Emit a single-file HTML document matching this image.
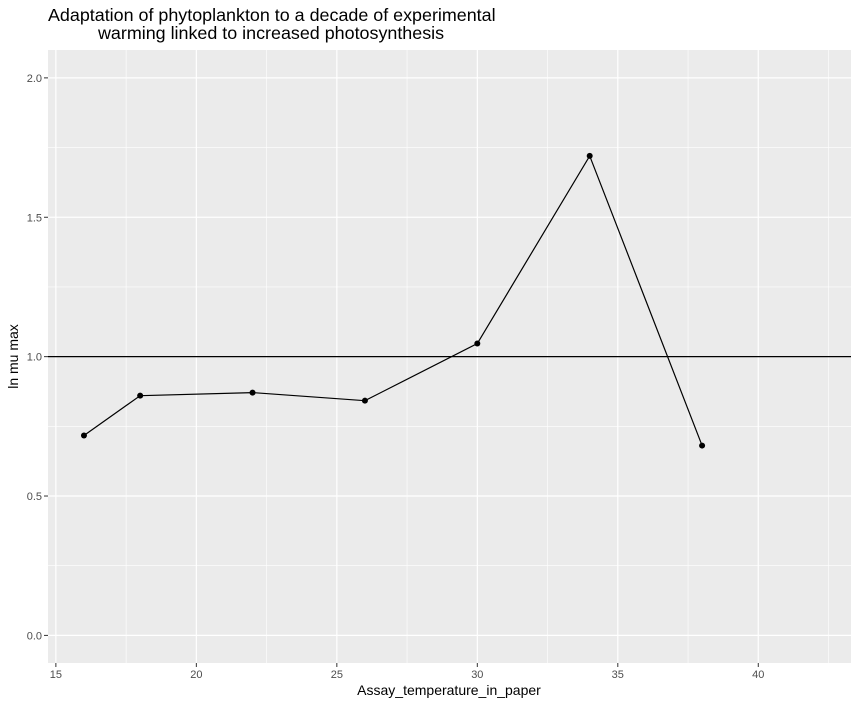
<!DOCTYPE html>
<html><head><meta charset="utf-8"><style>
body{margin:0;background:#fff;font-family:"Liberation Sans",sans-serif;}
</style></head><body>
<svg width="858" height="705" xmlns="http://www.w3.org/2000/svg" font-family="Liberation Sans, sans-serif">
<g id="root"></g>
</svg>
<script>
const temps=[16,18,22,26,30,34,38];
const lnmu=[0.717,0.860,0.871,0.842,1.047,1.720,0.681];
const xTicks=[15,20,25,30,35,40];
const yTicks=[0.0,0.5,1.0,1.5,2.0];
const yTickLabels=["0.0","0.5","1.0","1.5","2.0"];
const hline=1.0;
const L=48,R=851,T=50,B=663;
const X0=14.72,X1=43.30,Y0=-0.099,Y1=2.1;
const sx=v=>L+(v-X0)/(X1-X0)*(R-L);
const sy=v=>B-(v-Y0)/(Y1-Y0)*(B-T);
const NS="http://www.w3.org/2000/svg";
const root=document.getElementById('root');
function mk(t,a,p){const e=document.createElementNS(NS,t);for(const k in a)e.setAttribute(k,a[k]);(p||root).appendChild(e);return e;}
const bg=mk('rect',{x:L,y:T,width:R-L,height:B-T,fill:'#EBEBEB'});


for(let i=0;i<xTicks.length;i++){const m=xTicks[i]+2.5;if(m<X1){const l=mk('line',{x1:sx(m),x2:sx(m),y1:T,y2:B,stroke:'#fff','stroke-width':0.6});}}
for(let i=0;i<yTicks.length-1;i++){const m=(yTicks[i]+yTicks[i+1])/2;const l=mk('line',{x1:L,x2:R,y1:sy(m),y2:sy(m),stroke:'#fff','stroke-width':0.6});}
xTicks.forEach(v=>{const l=mk('line',{x1:sx(v),x2:sx(v),y1:T,y2:B,stroke:'#fff','stroke-width':1.2});
const tk=mk('line',{x1:sx(v),x2:sx(v),y1:B,y2:B+4,stroke:'#333'});
const t=mk('text',{x:sx(v),y:B+15,'font-size':11,fill:'#4D4D4D','text-anchor':'middle'});t.textContent=v;});
yTicks.forEach((v,i)=>{const l=mk('line',{x1:L,x2:R,y1:sy(v),y2:sy(v),stroke:'#fff','stroke-width':1.2});
const tk=mk('line',{x1:L-4,x2:L,y1:sy(v),y2:sy(v),stroke:'#333'});
const t=mk('text',{x:L-6,y:sy(v)+4,'font-size':11,fill:'#4D4D4D','text-anchor':'end'});t.textContent=yTickLabels[i];});
const h=mk('line',{x1:L,x2:R,y1:sy(hline),y2:sy(hline),stroke:'#000','stroke-width':1.3});


const pl=mk('polyline',{points:temps.map((t,i)=>sx(t)+','+sy(lnmu[i])).join(' '),fill:'none',stroke:'#000','stroke-width':1.2});


temps.forEach((t,i)=>{const c=mk('circle',{cx:sx(t),cy:sy(lnmu[i]),r:3,fill:'#000'});});
const xt=mk('text',{x:449,y:695,'font-size':14,'text-anchor':'middle'});xt.textContent='Assay_temperature_in_paper';


const yt=mk('text',{x:0,y:0,'font-size':14,'text-anchor':'middle',transform:`translate(18,${(T+B)/2}) rotate(-90)`});yt.textContent='ln mu max';


const t1=mk('text',{x:48,y:21,'font-size':17.9});t1.textContent='Adaptation of phytoplankton to a decade of experimental';


const t2=mk('text',{x:98,y:39,'font-size':17.9});t2.textContent='warming linked to increased photosynthesis';


</script>
</body></html>
